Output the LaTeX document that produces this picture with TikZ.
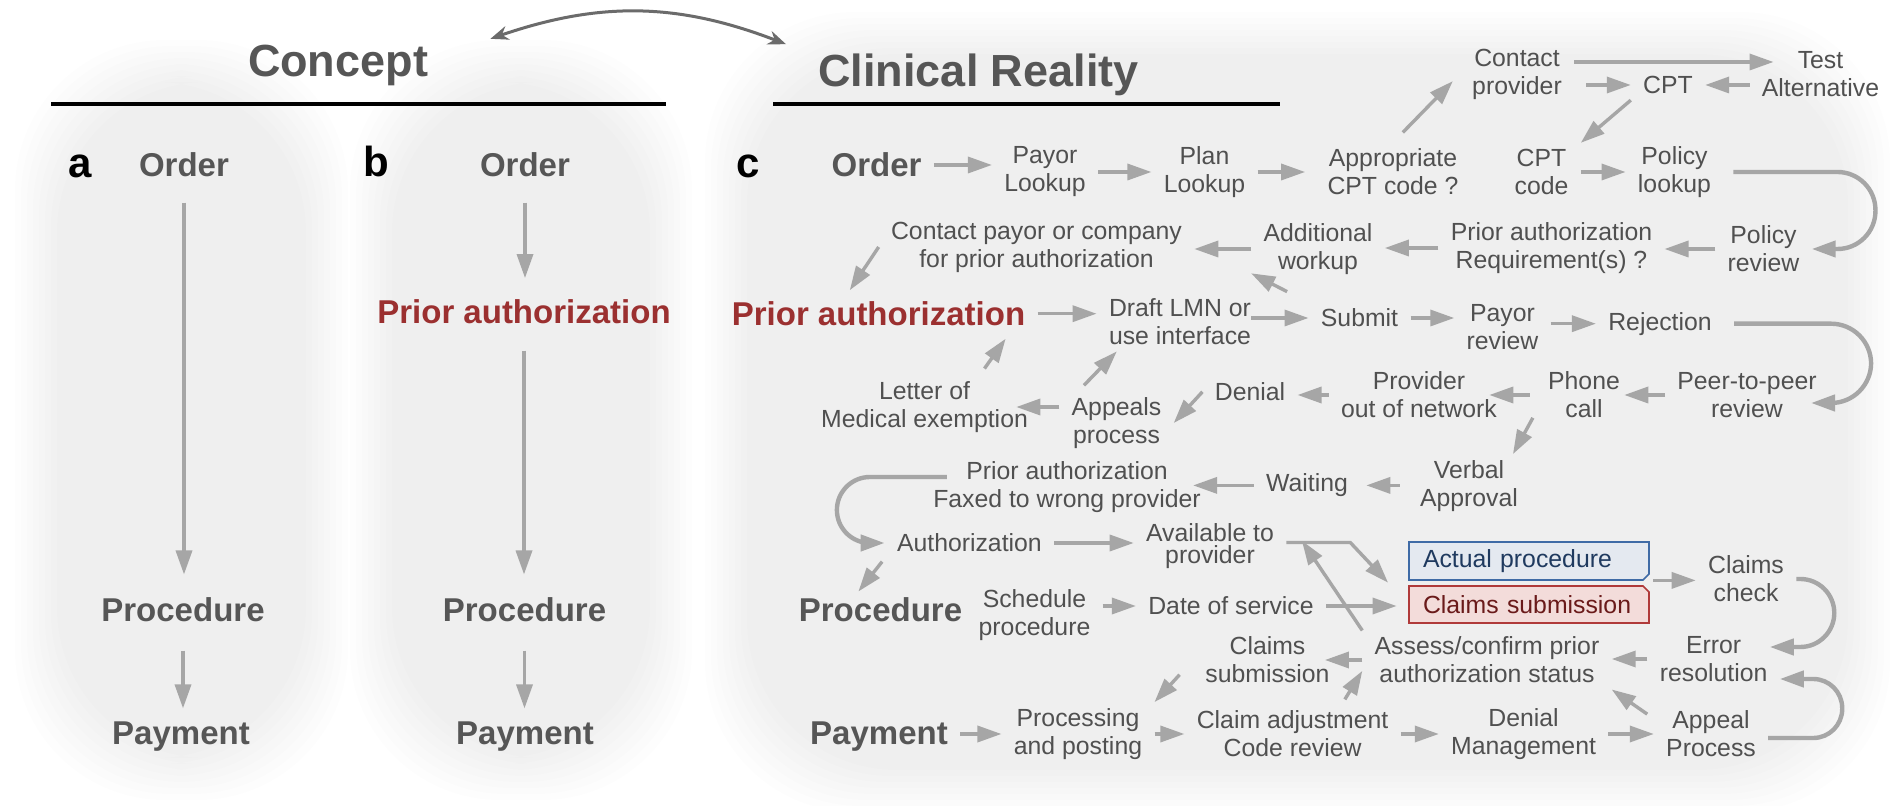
\documentclass[tikz,border=0pt]{standalone}
\usepackage{fontspec}
\setmainfont{Liberation Sans}
\usetikzlibrary{arrows.meta}
\definecolor{txtgray}{HTML}{505050}
\definecolor{lblgray}{HTML}{565656}
\definecolor{arrgray}{HTML}{A6A6A6}
\definecolor{swapgray}{HTML}{6B6B6B}
\definecolor{darkred}{HTML}{9B3030}
\definecolor{boxblue}{HTML}{3F6BA6}
\definecolor{boxbluefill}{HTML}{E4E9F0}
\definecolor{boxbluetext}{HTML}{1F3A5F}
\definecolor{boxred}{HTML}{B03A3A}
\definecolor{boxredfill}{HTML}{F3DCDA}
\definecolor{boxredtext}{HTML}{6A1A1A}

\begin{document}
\begin{tikzpicture}[x=0.5pt,y=-0.5pt,
  txt/.style={text=txtgray,align=center,inner xsep=6pt,inner ysep=3pt,font=\fontsize{12.4}{14}\selectfont},
  lbl/.style={text=lblgray,inner xsep=6pt,inner ysep=3pt,font=\fontsize{16.5}{19}\selectfont\bfseries},
  red lbl/.style={lbl,text=darkred},
  ttl/.style={text=lblgray,inner xsep=6pt,inner ysep=3pt,font=\fontsize{22.5}{26}\selectfont\bfseries},
  letter/.style={inner sep=0pt,font=\fontsize{21}{24}\selectfont\bfseries},
  boxtext/.style={minimum width=120pt,text width=106pt,align=left,inner xsep=7pt,inner ysep=0pt,font=\fontsize{12.4}{14}\selectfont},
  arr/.style={draw=arrgray,line width=1.7pt,-{Triangle[length=12pt,width=8pt]}},
  turn/.style={arr,line width=2.2pt},
  swap/.style={draw=swapgray,line width=1.5pt,{Stealth[length=9pt,width=7pt]}-{Stealth[length=9pt,width=7pt]}},
  panel/.style={fill=black,opacity=0.008,rounded corners=75pt}
]
\fill[white] (0,0) rectangle (1902,806);
\useasboundingbox (0,0) rectangle (1902,806);

%Panel a
\foreach \i in {0,...,7}
  \fill[panel] (15+6*\i,40+6*\i) rectangle (348-6*\i,800-6*\i);
%Panel b
\foreach \i in {0,...,7}
  \fill[panel] (350+6*\i,40+6*\i) rectangle (692-6*\i,800-6*\i);
%Panel c
\foreach \i in {0,...,7}
  \fill[panel] (705+6*\i,12+6*\i) rectangle (1890-6*\i,812-6*\i);

%%%%%%%%%%%%%%%%%Titles%%%%%%%%%%%%%%
\node[ttl,
] (concept) at (338,65.6){Concept};
\node[ttl,
] (clinical) at (978.5,74.6){Clinical Reality};

\draw[line width=2.4pt] (51,104) -- (666,104);
\draw[line width=2.4pt] (773,104) -- (1280,104);

\draw[swap] ([xshift=25pt]concept.north east) to[bend left=20] ([xshift=-10pt,yshift=1.5pt]clinical.north west);

%%%%%%%%%%%%%%%%%Panel a%%%%%%%%%%%%%%
\node[letter,
] (la) at (80,166){a};

%Order
\node[lbl,
] (aorder) at (184,165){Order};

%Procedure
\node[lbl,
] (aproc) at (183,610){Procedure};

%Payment
\node[lbl,
] (apay) at (181,736.6){Payment};

\draw[arr,shorten <=9.5pt,shorten >=8.5pt] (aorder.south) -- (aorder.south |- aproc.north);
\draw[arr,shorten <=11pt,shorten >=3.5pt] (aproc.south) -- (aproc.south |- apay.north);

%%%%%%%%%%%%%%%%%Panel b%%%%%%%%%%%%%%
\node[letter,
] (lb) at (376,161.7){b};

%Order
\node[lbl,
] (border) at (525,165){Order};

%Prior authorization
\node[red lbl,
] (bprior) at (524,312){Prior authorization};

%Procedure
\node[lbl,
] (bproc) at (524.5,610){Procedure};

%Payment
\node[lbl,
] (bpay) at (525,736.6){Payment};

\draw[arr,shorten <=9.5pt,shorten >=7.7pt] (border.south) -- (border.south |- bprior.north);
\draw[arr,shorten <=10pt,shorten >=8.5pt] (bprior.south) -- (bprior.south |- bproc.north);
\draw[arr,shorten <=11pt,shorten >=3.5pt] (bproc.south) -- (bproc.south |- bpay.north);

%%%%%%%%%%%%%%%%%Panel c%%%%%%%%%%%%%%
\node[letter,
] (lc) at (748,166){c};

%Order row
\node[lbl,
] (corder) at (876.5,165){Order};
\node[txt,
] (payor) at (1045,172){Payor\\Lookup};
\node[txt,
] (plan) at (1204.5,172){Plan\\Lookup};
\node[txt,
] (appr) at (1393,172){Appropriate\\CPT code ?};
\node[txt,
] (contact) at (1517,74){Contact\\provider};
\node[txt,
] (test) at (1820.5,74){Test\\Alternative};
\node[txt,
] (cpt) at (1668,85){CPT};
\node[txt,
] (cptcode) at (1541.5,172){CPT\\code};
\node[txt,
] (policy) at (1674.5,172){Policy\\lookup};

%Policy review row
\node[txt,
] (polrev) at (1763.5,249){Policy\\review};
\node[txt,
] (preq) at (1551.5,248){Prior authorization\\Requirement(s) ?};
\node[txt,
] (addwork) at (1318,249){Additional\\workup};
\node[txt,
] (contpay) at (1036.5,247){Contact payor or company\\for prior authorization};

%Prior authorization row
\node[red lbl,
] (cprior) at (878.5,313.7){Prior authorization};
\node[txt,
] (draft) at (1180,322){Draft LMN or\\use interface};
\node[txt,
] (submit) at (1359.5,318){Submit};
\node[txt,
] (payrev) at (1502.5,327){Payor\\review};
\node[txt,
] (reject) at (1660,323.7){Rejection};

%Peer review row
\node[txt,
] (peer) at (1747,395){Peer-to-peer\\review};
\node[txt,
] (phone) at (1584,395){Phone\\call};
\node[txt,
] (provnet) at (1419,395){Provider\\out of network};
\node[txt,
] (denial) at (1250,391.8){Denial};
\node[txt,
] (appeals) at (1116.5,423){Appeals\\process};
\node[txt,
] (letter) at (924.5,407){Letter of\\Medical exemption};

%Waiting row
\node[txt,
] (faxed) at (1067,487){Prior authorization\\Faxed to wrong provider};
\node[txt,
] (waiting) at (1307,485.4){Waiting};
\node[txt,
] (verbal) at (1469,486){Verbal\\Approval};

%Authorization row
\node[txt,
] (authz) at (969.4,543){Authorization};
\node[txt,font=\fontsize{12.4}{11}\selectfont,
] (avail) at (1210,546.5){Available to\\provider};

%Actual procedure box
\filldraw[draw=boxblue,fill=boxbluefill,line width=0.8pt] (1409,542) -- (1649,542) -- (1649,574) -- (1643,580) -- (1409,580) -- cycle;
\node[boxtext,text=boxbluetext,minimum height=19pt,
] (actual) at (1529,561){Actual procedure};

%Claims submission box
\filldraw[draw=boxred,fill=boxredfill,line width=0.8pt] (1409,586) -- (1643,586) -- (1649,592) -- (1649,623) -- (1409,623) -- cycle;
\node[boxtext,text=boxredtext,minimum height=18.5pt,
] (claimsbox) at (1529,604.5){Claims submission};

%Procedure row
\node[lbl,
] (cproc) at (880.5,610){Procedure};
\node[txt,
] (sched) at (1034.5,615){Schedule\\procedure};
\node[txt,
] (dos) at (1231,606){Date of service};
\node[txt,
] (check) at (1746,579){Claims\\check};
\node[txt,
] (errres) at (1713.6,659){Error\\resolution};
\node[txt,
] (assess) at (1487,660){Assess/confirm prior\\authorization status};
\node[txt,
] (csub) at (1267.5,660){Claims\\submission};

%Payment row
\node[lbl,
] (cpay) at (879,736.6){Payment};
\node[txt,
] (proc) at (1078,734){Processing\\and posting};
\node[txt,
] (claimadj) at (1292.6,734){Claim adjustment\\Code review};
\node[txt,
] (denmgmt) at (1523.6,734){Denial\\Management};
\node[txt,
] (appealp) at (1711,734){Appeal\\Process};

%Order row arrows
\draw[arr] (corder.east) -- (corder.east -| payor.west);
\draw[arr] (payor.east) -- (payor.east -| plan.west);
\draw[arr,shorten >=5pt] (plan.east) -- (plan.east -| appr.west);
\draw[arr,shorten <=7pt,shorten >=5pt] (appr.north) -- (contact.west);
\draw[arr,shorten >=-12pt] ([yshift=6pt]contact.east) -- ([yshift=6pt]contact.east -| test.west);
\draw[arr,shorten <=6pt] (contact.east |- cpt) -- (cpt.west);
\draw[arr] (test.west |- cpt) -- (cpt.east);
\draw[arr] (cpt.south west) -- (cptcode.north east);
\draw[arr] (cptcode.east) -- (cptcode.east -| policy.west);
\draw[turn,rounded corners=19pt,shorten <=5pt] (policy.east) -- ++(152,0) |- (polrev.east);

%Policy review row arrows
\draw[arr] (polrev.west) -- (polrev.west -| preq.east);
\draw[arr] (preq.west) -- (preq.west -| addwork.east);
\draw[arr] (addwork.west) -- (addwork.west -| contpay.east);
\draw[arr,shorten >=3pt] (contpay.west) -- (cprior.150);

%Prior authorization row arrows
\draw[arr] (cprior.east) -- (cprior.east -| draft.west);
\draw[arr,shorten <=-6pt] (submit.west -| draft.east) -- (submit.west);
\draw[arr,shorten <=12pt] (submit.north west) -- (addwork.200);
\draw[arr] (submit.east) -- (submit.east -| payrev.west);
\draw[arr] (reject.west -| payrev.east) -- (reject.west);
\draw[turn,rounded corners=20pt,shorten <=5pt] (reject.east) -- ++(147,0) |- ([xshift=-9pt,yshift=-4pt]peer.east);

%Peer review row arrows
\draw[arr,shorten >=-4pt] (peer.west) -- (peer.west -| phone.east);
\draw[arr,shorten <=3pt,shorten >=-10pt] (phone.west) -- (phone.west -| provnet.east);
\draw[arr] (provnet.west) -- (provnet.west -| denial.east);
\draw[arr] (denial.west) -- (appeals.east);
\draw[arr,shorten >=-12pt] ([yshift=8pt]appeals.west) -- ([yshift=8pt]appeals.west -| letter.east);
\draw[arr,shorten <=4pt,shorten >=4pt] (letter.30) -- (cprior.-8);
\draw[arr,shorten <=4pt] (appeals.140) -- (draft.205);
\draw[arr,shorten <=3pt] (phone.200) -- (verbal.36);

%Waiting row arrows
\draw[arr,shorten >=-10pt] (waiting.west) -- (waiting.west -| faxed.east);
\draw[arr,shorten <=4pt,shorten >=3pt] (verbal.west |- waiting) -- (waiting.east);
\draw[turn,rounded corners=16.5pt,shorten <=-13pt] ([yshift=5pt]faxed.west) -- ++(-84,0) |- (authz.west);

%Authorization row arrows
\draw[arr] (authz.east) -- (authz.east -| avail.west);
\draw[arr,shorten <=2pt] (authz.south west) -- (cproc.140);
\draw[arr,shorten >=15pt] ([yshift=2pt]avail.east) -- ++(64,0) -- (claimsbox.west);
\draw[arr,shorten >=14pt] (assess.north west) -- (avail.north east);

%Procedure row arrows
\draw[arr] (dos.west -| sched.east) -- (dos.west);
\draw[arr,shorten >=6pt] (dos.east) -- (dos.east -| claimsbox.west);
\draw[arr,shorten <=2pt] (actual.south east) -- (actual.south east -| check.west);
\draw[turn,rounded corners=17pt,shorten >=-5pt] (check.east) -- ++(38,0) |- ([yshift=6pt]errres.east);
\draw[arr] (errres.west) -- (errres.west -| assess.east);
\draw[arr,shorten >=-8.5pt] (assess.west) -- (assess.west -| csub.east);
\draw[arr,shorten <=10pt] (csub.west) -- (proc.north east);

%Payment row arrows
\draw[arr] (proc.west -| cpay.east) -- (proc.west);
\draw[arr] (proc.east) -- (proc.east -| claimadj.west);
\draw[arr,shorten <=3pt] (claimadj.31) -- (assess.185);
\draw[arr] (claimadj.east) -- (claimadj.east -| denmgmt.west);
\draw[arr] (denmgmt.east) -- (denmgmt.east -| appealp.west);
\draw[arr,shorten <=4pt] (appealp.165) -- (assess.south east);
\draw[turn,rounded corners=14.5pt] ([yshift=-2pt]appealp.east) -- ++(74,0) |- ([yshift=-10pt]errres.east);

\end{tikzpicture}
\end{document}
